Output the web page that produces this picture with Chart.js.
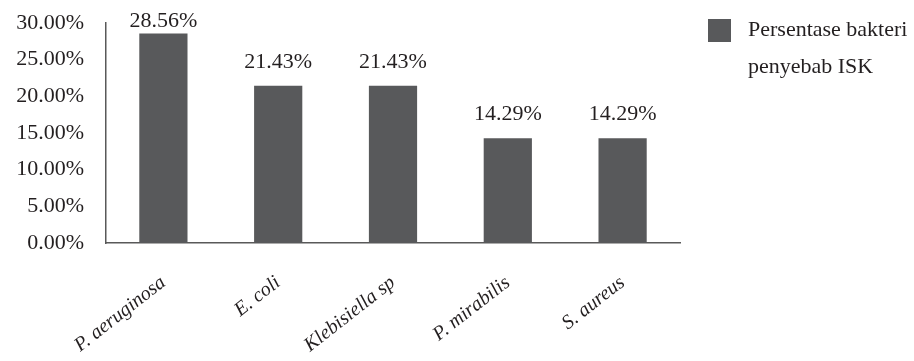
<!DOCTYPE html>
<html><head><meta charset="utf-8">
<script src="https://cdn.jsdelivr.net/npm/chart.js@4"></script>
<style>html,body{margin:0;padding:0;background:#fff}#wrap{width:914px;height:361px;position:relative}</style>
</head><body><div id="wrap"><canvas id="c"></canvas></div>
<script>
const categories = ["P. aeruginosa", "E. coli", "Klebisiella sp", "P. mirabilis", "S. aureus"];
const values = [28.56, 21.43, 21.43, 14.29, 14.29];
const seriesLabel = ["Persentase bakteri", "penyebab ISK"];
const yTicks = [0, 5, 10, 15, 20, 25, 30];

const FONT = '"Liberation Serif", "Times New Roman", serif';
const BAR = '#58595b';
const TXT = '#231f20';

const labelPlugin = {
  id: 'valLabels',
  afterDatasetsDraw(chart) {
    const ctx = chart.ctx;
    const meta = chart.getDatasetMeta(0);
    ctx.save();
    ctx.font = '22px ' + FONT;
    ctx.fillStyle = TXT;
    ctx.textAlign = 'center';
    ctx.textBaseline = 'alphabetic';
    meta.data.forEach((el, i) => {
      const yb = Math.max(el.y - 18, 27);
      ctx.fillText(values[i].toFixed(2) + '%', el.x, yb);
    });
    // legend
    const ds = chart.data.datasets[0];
    ctx.fillStyle = ds.backgroundColor;
    ctx.fillRect(708, 19, 23, 23);
    ctx.fillStyle = TXT;
    ctx.textAlign = 'left';
    ds.label.forEach((t, i) => ctx.fillText(t, 748, 36 + i * 37));
    ctx.restore();
  }
};

new Chart(document.getElementById('c'), {
  type: 'bar',
  data: {
    labels: categories,
    datasets: [{ label: seriesLabel, data: values, backgroundColor: BAR,
      categoryPercentage: 1, barPercentage: 0.42 }]
  },
  options: {
    responsive: true, maintainAspectRatio: false, animation: false,
    layout: { padding: { top: 23, right: 234, left: 0, bottom: 0 } },
    plugins: { legend: { display: false }, tooltip: { enabled: false } },
    scales: {
      x: {
        grid: { display: false, drawTicks: false },
        border: { display: true, color: '#595959', width: 1.5 },
        ticks: { color: TXT, font: { family: FONT, size: 20, style: 'italic' },
          minRotation: 38, maxRotation: 38, padding: 28, autoSkip: false },
        afterFit(s) { s.height = 118; s.paddingLeft = 0; s.paddingRight = 0; }
      },
      y: {
        min: 0, max: 30,
        grid: { display: false, drawTicks: false },
        border: { display: true, color: '#595959', width: 1.5 },
        afterBuildTicks(s) { s.ticks = yTicks.map(v => ({ value: v })); },
        ticks: { color: TXT, font: { family: FONT, size: 22 }, padding: 22,
          callback: v => Number(v).toFixed(2) + '%' },
        afterFit(s) { s.width = 106; s.paddingTop = 0; s.paddingBottom = 0; }
      }
    }
  },
  plugins: [labelPlugin]
});
</script></body></html>
